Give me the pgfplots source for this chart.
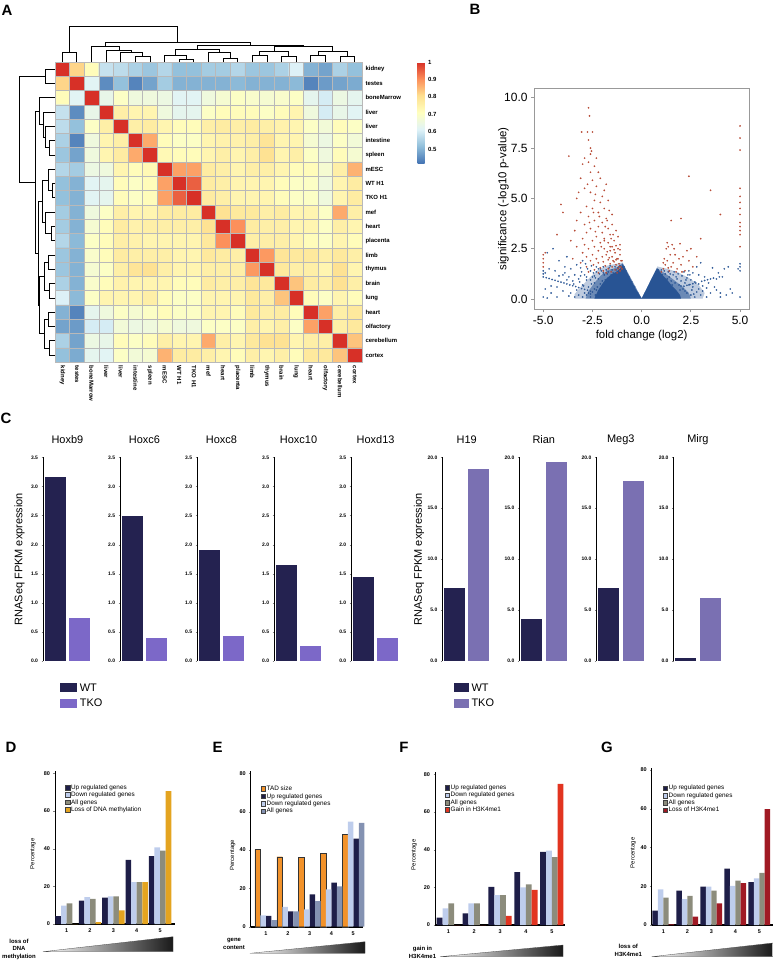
\documentclass[border=0pt]{standalone}
\usepackage{fontspec}
\setmainfont{Liberation Sans}
\usepackage{pgfplots}
\pgfplotsset{compat=1.18}
\pgfplotsset{/pgf/number format/assume math mode=true}
\definecolor{wt}{RGB}{36,34,80}
\definecolor{tkoA}{RGB}{124,104,200}
\definecolor{tkoB}{RGB}{122,112,178}
\definecolor{vblue}{RGB}{40,84,148}
\definecolor{vred}{RGB}{182,72,50}
\definecolor{navy}{RGB}{30,30,72}
\definecolor{lblue}{RGB}{190,205,236}
\definecolor{olive}{RGB}{140,140,124}
\definecolor{gblue}{RGB}{132,146,178}
\definecolor{dorange}{RGB}{228,164,32}
\definecolor{eorange}{RGB}{242,146,42}
\definecolor{fred}{RGB}{226,52,32}
\definecolor{gred}{RGB}{160,26,36}
\newcommand\fs[1]{\fontsize{#1}{#1}\selectfont}
\newcommand\tb[5]{\addplot[dend] coordinates {(#1,#2) (#1,#3) (#4,#3) (#4,#5)};}
\newcommand\lb[5]{\addplot[dend] coordinates {(#2,#1) (#3,#1) (#3,#4) (#5,#4)};}
\pgfplotsset{
 cbar/.style={scale only axis, width=48.8bp, height=203.7bp, xmin=0.5, xmax=2.5, ymin=0,
   axis x line=none, axis y line*=left, axis line style={line width=0.8bp},
   tick align=outside, major tick length=1.5bp,
   yticklabel style={font=\fs{5}\bfseries, /pgf/number format/.cd, fixed, fixed zerofill, precision=1},
   title style={font=\fs{11}, at={(0.5,1)}, anchor=center, yshift=11.6bp},
   clip=false},
 hox/.style={cbar, ymax=3.5, ytick={0,0.5,1,1.5,2,2.5,3,3.5}},
 imp/.style={cbar, ymax=20, ytick={0,5,10,15,20}},
 pb/.style={ybar, bar width=21bp, draw=none},
 dg/.style={scale only axis, ymin=0, ymax=81, axis lines*=left,
   axis line style={line width=1bp}, x axis line style={line width=1.8bp},
   ytick={0,20,40,60,80}, xtick={1,2,3,4,5}, tick align=outside,
   major tick length=1.5bp, xtick style={draw=none},
   tick label style={font=\fs{5.5}\bfseries},
   ylabel={Percentage}, ylabel style={font=\fs{6}, at={(rel axis cs:0,0.46)}, anchor=center},
   legend cell align=left,
   legend style={anchor=north west, draw=none, fill=none, inner sep=0pt, font=\fs{6.4}, row sep=0.8bp, column sep=0.6bp,
     nodes={inner sep=0.4bp, text height=4.6bp, text depth=1.2bp}},
   legend image code/.code={\draw[#1, draw=black!75, line width=0.35bp] (0bp,-2.3bp) rectangle (4.6bp,2.3bp);},
   clip=false},
}
\begin{document}
\begin{tikzpicture}[dend/.style={black, line width=0.9bp}]
\useasboundingbox (0bp,0bp) rectangle (773bp,-961bp);

% ---------------- Panel A heatmap
\begin{axis}[at={(55bp,-62bp)}, anchor=north west, scale only axis, width=307bp, height=300.3bp,
 xmin=-0.5, xmax=20.5, ymin=-0.5, ymax=20.5, enlargelimits=false,
 colormap={rdylbu}{rgb255=(69,117,180) rgb255=(145,191,219) rgb255=(224,243,248) rgb255=(255,255,191) rgb255=(254,224,144) rgb255=(252,141,89) rgb255=(215,48,39)},
 point meta min=0.42, point meta max=1,
 xtick={0,...,20}, ytick={0,...,20},
 xticklabels={kidney,testes,boneMarrow,liver,liver,intestine,spleen,mESC,WT H1,TKO H1,mef,heart,placenta,limb,thymus,brain,lung,heart,olfactory,cerebellum,cortex},
 yticklabels={cortex,cerebellum,olfactory,heart,lung,brain,thymus,limb,placenta,heart,mef,TKO H1,WT H1,mESC,spleen,intestine,liver,liver,boneMarrow,testes,kidney},
 yticklabel pos=right,
 major tick length=0, minor tick length=0,
 xticklabel style={rotate=-90, anchor=west, font=\fs{6}\bfseries},
 yticklabel style={anchor=west, font=\fs{6}\bfseries},
 minor xtick={-0.5,0.5,...,20.5}, minor ytick={-0.5,0.5,...,20.5},
 xminorgrids, yminorgrids, minor grid style={gray!55, line width=0.7bp},
 axis on top, axis line style={gray!55, line width=0.7bp},
 colorbar,
 colorbar style={at={(parent axis.north east)}, anchor=north west, xshift=47bp, scale only axis,
   width=7bp, height=101bp, ytick={0.5,0.6,0.7,0.8,0.9,1}, major tick length=0,
   yticklabel style={font=\fs{6}\bfseries, /pgf/number format/fixed},
   axis line style={draw=none}}]
\addplot[matrix plot*, mesh/cols=21, point meta=explicit]
 table[row sep=\\, header=false, x expr={mod(\coordindex,21)}, y expr={20-floor((\coordindex+0.5)/21)}, meta index=0] {
1\\0.82\\0.72\\0.58\\0.57\\0.55\\0.53\\0.56\\0.52\\0.52\\0.54\\0.54\\0.56\\0.53\\0.53\\0.55\\0.61\\0.50\\0.48\\0.55\\0.52\\
0.82\\1\\0.62\\0.45\\0.52\\0.44\\0.48\\0.54\\0.50\\0.50\\0.50\\0.50\\0.51\\0.50\\0.50\\0.50\\0.51\\0.44\\0.47\\0.48\\0.49\\
0.72\\0.62\\1\\0.64\\0.70\\0.66\\0.66\\0.65\\0.62\\0.62\\0.66\\0.68\\0.70\\0.69\\0.68\\0.69\\0.70\\0.63\\0.60\\0.65\\0.63\\
0.58\\0.45\\0.64\\1\\0.76\\0.74\\0.74\\0.66\\0.63\\0.63\\0.70\\0.72\\0.72\\0.72\\0.70\\0.72\\0.74\\0.66\\0.60\\0.64\\0.62\\
0.57\\0.52\\0.70\\0.76\\1\\0.76\\0.77\\0.74\\0.72\\0.72\\0.76\\0.77\\0.76\\0.77\\0.76\\0.75\\0.74\\0.70\\0.67\\0.72\\0.70\\
0.55\\0.44\\0.66\\0.74\\0.76\\1\\0.87\\0.72\\0.70\\0.70\\0.74\\0.75\\0.75\\0.76\\0.79\\0.74\\0.74\\0.68\\0.65\\0.70\\0.67\\
0.53\\0.48\\0.66\\0.74\\0.77\\0.87\\1\\0.73\\0.72\\0.72\\0.74\\0.76\\0.74\\0.76\\0.80\\0.74\\0.76\\0.70\\0.66\\0.72\\0.68\\
0.56\\0.54\\0.65\\0.66\\0.74\\0.72\\0.73\\1\\0.88\\0.88\\0.77\\0.76\\0.74\\0.76\\0.76\\0.74\\0.72\\0.72\\0.68\\0.76\\0.86\\
0.52\\0.50\\0.62\\0.63\\0.72\\0.70\\0.72\\0.88\\1\\0.95\\0.77\\0.76\\0.74\\0.74\\0.74\\0.72\\0.70\\0.70\\0.66\\0.74\\0.77\\
0.52\\0.50\\0.62\\0.63\\0.72\\0.70\\0.72\\0.88\\0.95\\1\\0.77\\0.76\\0.74\\0.74\\0.74\\0.72\\0.70\\0.70\\0.66\\0.74\\0.77\\
0.54\\0.50\\0.66\\0.70\\0.76\\0.74\\0.74\\0.77\\0.77\\0.77\\1\\0.80\\0.78\\0.78\\0.76\\0.77\\0.74\\0.74\\0.70\\0.87\\0.76\\
0.54\\0.50\\0.68\\0.72\\0.77\\0.75\\0.76\\0.76\\0.76\\0.76\\0.80\\1\\0.90\\0.77\\0.76\\0.76\\0.74\\0.74\\0.70\\0.76\\0.74\\
0.56\\0.51\\0.70\\0.72\\0.76\\0.75\\0.74\\0.74\\0.74\\0.74\\0.78\\0.90\\1\\0.76\\0.76\\0.76\\0.74\\0.72\\0.70\\0.74\\0.72\\
0.53\\0.50\\0.69\\0.72\\0.77\\0.76\\0.76\\0.76\\0.74\\0.74\\0.78\\0.77\\0.76\\1\\0.89\\0.79\\0.78\\0.78\\0.76\\0.78\\0.76\\
0.53\\0.50\\0.68\\0.70\\0.76\\0.79\\0.80\\0.76\\0.74\\0.74\\0.76\\0.76\\0.76\\0.89\\1\\0.78\\0.76\\0.76\\0.74\\0.80\\0.74\\
0.55\\0.50\\0.69\\0.72\\0.75\\0.74\\0.74\\0.74\\0.72\\0.72\\0.77\\0.76\\0.76\\0.79\\0.78\\1\\0.84\\0.77\\0.76\\0.80\\0.76\\
0.61\\0.51\\0.70\\0.74\\0.74\\0.74\\0.76\\0.72\\0.70\\0.70\\0.74\\0.74\\0.74\\0.78\\0.76\\0.84\\1\\0.72\\0.70\\0.74\\0.72\\
0.50\\0.44\\0.63\\0.66\\0.70\\0.68\\0.70\\0.72\\0.70\\0.70\\0.74\\0.74\\0.72\\0.78\\0.76\\0.77\\0.72\\1\\0.88\\0.76\\0.78\\
0.48\\0.47\\0.60\\0.60\\0.67\\0.65\\0.66\\0.68\\0.66\\0.66\\0.70\\0.70\\0.70\\0.76\\0.74\\0.76\\0.70\\0.88\\1\\0.76\\0.78\\
0.55\\0.48\\0.65\\0.64\\0.72\\0.70\\0.72\\0.76\\0.74\\0.74\\0.87\\0.76\\0.74\\0.78\\0.80\\0.80\\0.74\\0.76\\0.76\\1\\0.84\\
0.52\\0.49\\0.63\\0.62\\0.70\\0.67\\0.68\\0.86\\0.77\\0.77\\0.76\\0.74\\0.72\\0.76\\0.74\\0.76\\0.72\\0.78\\0.78\\0.84\\1\\
};
\end{axis}

% ---------------- Panel B volcano
\begin{axis}[at={(534bp,-88.3bp)}, anchor=north west, scale only axis, width=215.3bp, height=221bp,
 xmin=-5.47, xmax=5.47, ymin=-0.51, ymax=10.47,
 xtick={-5,-2.5,0,2.5,5}, ytick={0,2.5,5,7.5,10},
 tick label style={font=\fs{12}, /pgf/number format/.cd, fixed, fixed zerofill, precision=1},
 xtick pos=bottom, ytick pos=left, tick align=outside, major tick length=3bp,
 axis line style={gray!80, line width=0.8bp}, tick style={gray!80, line width=0.8bp},
 xlabel={fold change (log2)}, ylabel={significance (-log10 p-value)},
 label style={font=\fs{11.5}},
 xlabel style={at={(rel axis cs:0.5,0)}, anchor=center, yshift=-26.7bp},
 ylabel style={at={(rel axis cs:0,0.5)}, anchor=center, yshift=30.7bp}]
\addplot[fill=vblue, fill opacity=0.3, draw=none] coordinates {(0,0.03) (-0.97,1.82) (-1.3,1.75) (-1.8,1.65) (-2.3,1.4) (-2.7,1.0) (-3.1,0.6) (-3.4,0.25) (-3.4,0.02) (3.1,0.02) (3.2,0.3) (2.9,0.7) (2.4,1.05) (1.8,1.35) (1.3,1.5) (0.8,1.62)} -- cycle;
\addplot[fill=vblue, fill opacity=0.55, draw=none] coordinates {(0,0.03) (-0.97,1.78) (-1.3,1.55) (-1.7,1.45) (-2.1,1.15) (-2.4,0.8) (-2.7,0.4) (-2.85,0.02) (2.5,0.02) (2.4,0.3) (2.1,0.6) (1.7,0.9) (1.3,1.2) (0.9,1.45) (0.78,1.55)} -- cycle;
\addplot[fill=vblue, draw=none] coordinates {(0,0.03) (-0.3,0.5) (-0.6,1.05) (-0.85,1.55) (-0.97,1.74) (-1.1,1.5) (-1.3,1.35) (-1.55,1.22) (-1.8,1.0) (-2.0,0.75) (-2.2,0.45) (-2.35,0.15) (-2.4,0.02) (2.0,0.02) (1.95,0.2) (1.75,0.45) (1.5,0.7) (1.3,0.95) (1.05,1.2) (0.85,1.45) (0.78,1.52) (0.5,1.0) (0.25,0.5)} -- cycle;
\addplot[only marks, mark=*, mark size=0.65bp, color=vblue, opacity=0.85] coordinates {
(-5.0,1.1) (-4.85,1.06) (-4.7,1.02) (-4.55,0.97) (-4.4,0.93) (-4.25,0.88) (-4.1,0.84) (-3.95,0.8) (-3.8,0.75) (-3.65,0.7) (-3.5,0.66) (-3.35,0.62) (-3.2,0.57) (-3.05,0.52) (-2.9,0.48) (-2.75,0.44) (-2.6,0.39)
(-4.5,2.5) (-4.8,2.3) (-4.2,1.9) (-3.9,1.6) (-4.4,1.4) (-3.6,1.5) (-3.3,1.7) (-3.0,1.9) (-4.7,1.5) (-3.8,2.1) (-4.0,0.4) (-4.6,0.3) (-3.7,0.15) (-4.3,0.1) (-4.8,0.05) (-3.9,1.3) (-4.2,1.15) (-3.1,1.55) (-2.85,1.75) (-2.55,1.65) (-5,0.1) (-5,1.25) (-5,1.4) (-4.9,1.3)
(-2.6,1.4) (-2.9,1.2) (-3.2,1.0) (-3.5,0.9) (-3.8,0.95) (-2.3,1.6) (-2.1,1.5) (-2.5,1.1) (-2.8,0.95) (-3.0,0.7) (-3.3,0.45) (-3.6,0.3) (-2.2,1.0) (-2.4,0.8) (-2.7,0.6) (-2.9,0.3) (-3.2,0.2) (-3.4,0.1) (-2.6,0.25) (-2.3,0.45) (-2.0,0.9) (-1.9,1.2) (-1.7,1.35) (-2.15,1.25) (-2.45,1.3) (-2.75,1.5) (-3.05,1.35) (-3.4,1.2) (-3.7,1.1) (-4.0,1.2) (-4.3,0.6) (-4.6,0.65) (-4.9,0.5)
(-1.1,1.65) (-1.2,1.55) (-1.35,1.6) (-1.5,1.45) (-1.65,1.55) (-1.8,1.45) (-1.95,1.6) (-2.05,1.4) (-1.4,1.2) (-1.6,1.1) (-1.85,0.95) (-2.1,0.75) (-2.25,0.6) (-2.4,0.5) (-2.5,0.35) (-2.35,0.2) (-2.2,0.1) (-2.6,0.1) (-2.8,0.2) (-3.0,0.1) (-1.75,1.25) (-1.25,1.3) (-2.3,1.35) (-2.6,0.95) (-2.8,1.1)
(-1.05,1.45) (-1.15,1.35) (-1.3,1.45) (-1.45,1.3) (-1.55,1.2) (-1.7,1.05) (-1.9,0.8) (-2.0,0.5) (-2.15,0.35) (-1.95,1.3) (-2.2,1.5) (-2.4,1.15) (-2.55,0.75) (-2.7,0.3) (-2.95,0.65) (-3.15,0.85) (-3.45,0.75) (-3.1,1.15) (-2.35,1.05) (-1.6,1.65)
(-0.2,0.3) (-0.35,0.6) (-0.5,0.85) (-0.65,1.1) (-0.8,1.4) (-0.9,1.6) (0.2,0.3) (0.35,0.6) (0.5,0.85) (0.65,1.15) (0.72,1.35)
(0.9,1.3) (1.05,1.2) (1.2,1.25) (1.4,1.1) (1.6,1.2) (1.8,1.0) (2.0,0.9) (2.2,0.8) (2.4,0.7) (2.6,0.6) (1.3,1.0) (1.5,0.9) (1.7,0.8) (1.9,0.7) (2.1,0.5) (2.3,0.3) (2.5,0.2) (2.7,0.1) (1.85,1.25) (2.05,1.15) (2.3,1.05) (2.5,0.95) (2.7,0.85) (2.9,0.75) (3.1,0.65) (3.3,0.55) (2.6,1.3) (2.9,1.2) (3.2,1.1) (3.5,1.0) (3.8,1.0) (4.1,1.1) (3.4,0.8) (3.7,0.6) (2.8,0.35) (3.0,0.2) (3.3,0.1) (2.15,1.35) (2.45,1.2) (1.65,1.35) (1.35,1.35) (1.1,0.95) (2.0,0.65) (2.2,0.4) (2.4,1.4) (2.8,1.6) (3.0,1.8) (3.6,1.55) (3.9,1.3) (4.2,1.5) (4.5,0.5) (4.4,1.6) (4.0,0.3) (3.5,0.3) (2.9,0.5)
(2.15,0.64) (2.45,0.72) (2.75,0.8) (3.05,0.88) (3.35,0.96) (3.65,1.04) (3.95,1.1) (2.3,0.68) (2.6,0.76) (3.2,0.92)
(0.95,1.1) (1.15,1.4) (1.25,0.8) (1.45,1.25) (1.55,0.7) (1.75,1.1) (1.95,0.45) (2.25,0.95) (2.55,0.45) (2.35,1.2) (0.85,1.45) (1.0,1.45) (2.65,0.25) (3.1,0.4) (4.3,0.2) (3.8,0.45)
(5,0.1) (5,1.4) (5,1.6) (5,1.75) (4.9,1.5) (4,0.1) (4.6,0.3)
};
\addplot[only marks, mark=*, mark size=0.65bp, color=vred, opacity=0.9] coordinates {
(-2.7,9.5) (-2.65,9.1) (-3.05,8.3) (-2.75,8.3) (-2.5,8.3) (-2.7,7.9) (-2.6,7.5) (-2.55,7.35) (-2.6,7.2) (-3.7,7.1) (-2.9,7.0) (-2.3,7.0) (-2.7,6.8) (-3.0,6.7) (-2.4,6.6) (-2.2,6.3) (-2.6,6.3) (-3.1,6.0) (-2.1,6.0) (-2.5,5.9) (-1.8,5.7) (-2.3,5.6) (-2.9,5.5) (-1.9,5.4) (-3.2,5.3) (-2.6,5.3) (-2.0,5.1) (-3.3,5.0) (-2.4,4.9) (-2.1,4.8) (-1.7,4.9) (-4.1,4.7) (-2.8,4.6) (-1.9,4.5) (-2.5,4.5) (-4.0,4.3) (-3.1,4.3) (-2.2,4.3) (-1.5,4.2) (-2.7,4.1) (-1.8,4.0) (-2.4,3.9) (-3.3,3.9) (-2.0,3.8) (-1.5,3.7) (-2.9,3.7) (-2.2,3.6) (-1.7,3.5) (-2.6,3.5) (-3.4,3.4) (-1.3,3.4) (-2.0,3.3) (-2.8,3.3) (-1.6,3.2) (-4.3,3.2) (-2.3,3.1) (-1.2,3.1) (-3.0,3.0) (-1.9,3.0) (-2.5,2.9) (-1.4,2.9) (-3.6,2.9) (-2.1,2.8) (-1.7,2.8) (-2.9,2.7) (-1.1,2.7) (-2.4,2.6) (-1.5,2.6) (-3.3,2.6) (-1.9,2.5) (-2.7,2.5) (-1.2,2.5) (-2.2,2.4) (-1.6,2.4) (-3.0,2.3) (-1.35,2.3) (-2.5,2.2) (-1.8,2.2) (-1.1,2.2) (-2.0,2.1) (-2.8,2.1) (-1.5,2.1) (-3.5,2.0) (-1.25,2.0) (-2.3,2.0) (-1.7,1.95) (-1.05,1.9) (-2.6,1.9) (-1.95,1.85) (-1.4,1.85) (-3.1,1.8) (-2.2,1.8) (-1.15,1.75) (-1.6,1.75) (-2.45,1.7) (-1.3,1.7) (-1.85,1.65) (-2.8,1.6) (-1.05,1.6) (-1.5,1.6) (-2.1,1.55) (-1.2,1.5) (-1.7,1.5) (-2.4,1.45) (-1.35,1.45) (-1.95,1.4) (-1.1,1.4) (-1.55,1.35) (-2.7,1.35) (-1.25,1.3) (-1.8,1.3) (-2.2,1.3) (-1.45,1.9) (-1.75,2.35) (-1.3,2.65) (-1.55,3.0) (-2.35,3.35) (-1.85,3.6) (-2.65,3.8) (-2.15,4.1) (-1.65,4.4) (-2.35,5.2) (-2.75,5.7) (-1.2,2.0) (-1.4,2.45) (-1.65,2.05) (-1.0,1.5) (-1.15,1.6) (-1.3,1.95) (-1.6,2.6) (-1.9,2.9) (-2.05,2.6) (-1.45,3.2) (-1.75,3.9) (-2.45,4.3) (-1.0,1.9) (-1.1,2.45)
(-5.0,1.6) (-5.0,1.8) (-5.0,2.0) (-5.0,2.2) (-4.9,2.3)
(1.0,1.35) (1.1,1.5) (1.2,1.7) (1.3,1.9) (1.25,2.5) (1.3,2.8) (1.35,2.6) (1.4,1.4) (1.5,1.6) (1.6,1.8) (1.7,2.2) (1.8,1.5) (1.9,2.0) (2.0,1.7) (2.1,2.1) (2.2,1.4) (2.3,2.4) (2.4,1.9) (2.5,2.5) (1.15,2.0) (1.45,2.2) (1.65,2.5) (1.75,1.35) (2.05,1.35) (2.6,1.6) (1.55,2.7) (2.0,4.0) (1.5,3.9) (2.4,6.1) (3.5,5.4) (4.0,4.2) (3.0,3.0) (2.8,2.1) (1.1,1.8) (1.35,1.55) (1.95,2.75)
(5,2.6) (5,3.2) (5,3.4) (5,3.6) (5,3.8) (5,4.2) (5,4.5) (5,4.8) (5,5.1) (5,5.5) (5,7.4) (5,8.0) (5,8.6)
};
\end{axis}

% ---------------- Panel C
\begin{axis}[hox, at={(43bp,-661bp)}, anchor=south west, title={Hoxb9},
 ylabel={RNASeq FPKM expression}, ylabel style={font=\fs{11}, at={(rel axis cs:0,0.5)}, anchor=center, yshift=23.5bp},
 legend cell align=left,
 legend style={at={(rel axis cs:0.348,-0.103)}, anchor=north west, draw=none, fill=none, inner sep=0pt, row sep=4.5bp, column sep=2bp, font=\fs{11}, nodes={inner sep=1bp, text height=8bp, text depth=1bp}},
 legend image code/.code={\fill[#1] (0bp,-4.5bp) rectangle (16.7bp,4.5bp);}]
\addplot[pb, fill=wt] coordinates {(1,3.17)}; \addlegendentry{WT}
\addplot[pb, fill=tkoA] coordinates {(2,0.74)}; \addlegendentry{TKO}
\end{axis}
\begin{axis}[hox, at={(120.05bp,-661bp)}, anchor=south west, title={Hoxc6}]
\addplot[pb, fill=wt] coordinates {(1,2.50)};
\addplot[pb, fill=tkoA] coordinates {(2,0.39)};
\end{axis}
\begin{axis}[hox, at={(197.1bp,-661bp)}, anchor=south west, title={Hoxc8}]
\addplot[pb, fill=wt] coordinates {(1,1.90)};
\addplot[pb, fill=tkoA] coordinates {(2,0.43)};
\end{axis}
\begin{axis}[hox, at={(274.15bp,-661bp)}, anchor=south west, title={Hoxc10}]
\addplot[pb, fill=wt] coordinates {(1,1.65)};
\addplot[pb, fill=tkoA] coordinates {(2,0.26)};
\end{axis}
\begin{axis}[hox, at={(351.2bp,-661bp)}, anchor=south west, title={Hoxd13}]
\addplot[pb, fill=wt] coordinates {(1,1.45)};
\addplot[pb, fill=tkoA] coordinates {(2,0.39)};
\end{axis}
\begin{axis}[imp, at={(442.3bp,-661bp)}, anchor=south west, title={H19},
 ylabel={RNASeq FPKM expression}, ylabel style={font=\fs{11}, at={(rel axis cs:0,0.5)}, anchor=center, yshift=23.3bp},
 legend cell align=left,
 legend style={at={(rel axis cs:0.24,-0.103)}, anchor=north west, draw=none, fill=none, inner sep=0pt, row sep=4.5bp, column sep=2bp, font=\fs{11}, nodes={inner sep=1bp, text height=8bp, text depth=1bp}},
 legend image code/.code={\fill[#1] (0bp,-4.5bp) rectangle (14.3bp,4.5bp);}]
\addplot[pb, fill=wt] coordinates {(1,7.14)}; \addlegendentry{WT}
\addplot[pb, fill=tkoB] coordinates {(2,18.9)}; \addlegendentry{TKO}
\end{axis}
\begin{axis}[imp, at={(519.4bp,-661bp)}, anchor=south west, title={Rian}]
\addplot[pb, fill=wt] coordinates {(1,4.09)};
\addplot[pb, fill=tkoB] coordinates {(2,19.5)};
\end{axis}
\begin{axis}[imp, at={(596.4bp,-661bp)}, anchor=south west, title={Meg3}]
\addplot[pb, fill=wt] coordinates {(1,7.2)};
\addplot[pb, fill=tkoB] coordinates {(2,17.7)};
\end{axis}
\begin{axis}[imp, at={(673.5bp,-661bp)}, anchor=south west, title={Mirg}]
\addplot[pb, fill=wt] coordinates {(1,0.3)};
\addplot[pb, fill=tkoB] coordinates {(2,6.15)};
\end{axis}

% ---------------- Panel D
\begin{axis}[dg, at={(55bp,-924bp)}, anchor=south west, width=120bp, height=152.6bp, xmin=0.5, xmax=5.64,
 ylabel style={yshift=22bp}, legend style={at={(axis cs:0.927,74.3)}}]
\addplot[ybar, bar width=5.6bp, bar shift=-8.4bp, fill=navy, draw=none] coordinates {(1,4.2) (2,12.4) (3,14) (4,34) (5,36.1)}; \addlegendentry{Up regulated genes}
\addplot[ybar, bar width=5.6bp, bar shift=-2.8bp, fill=lblue, draw=none] coordinates {(1,9.7) (2,14.3) (3,14.7) (4,22.3) (5,40.7)}; \addlegendentry{Down regulated genes}
\addplot[ybar, bar width=5.6bp, bar shift=2.8bp, fill=olive, draw=none] coordinates {(1,11) (2,13.3) (3,14.7) (4,22.3) (5,38.9)}; \addlegendentry{All genes}
\addplot[ybar, bar width=5.6bp, bar shift=8.4bp, fill=dorange, draw=none] coordinates {(1,0) (2,1) (3,7.3) (4,22.3) (5,70.6)}; \addlegendentry{Loss of DNA methylation}
\end{axis}

% ---------------- Panel E
\begin{axis}[dg, at={(250.7bp,-926.7bp)}, anchor=south west, width=112.6bp, height=155.3bp, xmin=0.3, xmax=5.46,
 ylabel style={yshift=18bp}, legend style={at={(axis cs:0.75,73.7)}}]
\addplot[ybar, bar width=5.5bp, bar shift=-8.25bp, fill=eorange, draw=black!80, line width=0.4bp] coordinates {(1,40.3) (2,36.5) (3,36) (4,38.3) (5,48)}; \addlegendentry{TAD size}
\addplot[ybar, bar width=5.5bp, bar shift=2.75bp, fill=navy, draw=none] coordinates {(1,5.6) (2,8) (3,16.9) (4,23) (5,45.9)}; \addlegendentry{Up regulated genes}
\addplot[ybar, bar width=5.5bp, bar shift=-2.75bp, fill=lblue, draw=none] coordinates {(1,5.9) (2,10.4) (3,9) (4,19.5) (5,54.8)}; \addlegendentry{Down regulated genes}
\addplot[ybar, bar width=5.5bp, bar shift=8.25bp, fill=gblue, draw=none] coordinates {(1,3.5) (2,8) (3,13.4) (4,21) (5,54.1)}; \addlegendentry{All genes}
\end{axis}

% ---------------- Panel F
\begin{axis}[dg, at={(435bp,-925bp)}, anchor=south west, width=130bp, height=152.6bp, xmin=0.485, xmax=5.51,
 ylabel style={yshift=20.7bp}, legend style={at={(axis cs:0.853,74.8)}}]
\addplot[ybar, bar width=5.8bp, bar shift=-8.7bp, fill=navy, draw=none] coordinates {(1,3.9) (2,6.2) (3,20.2) (4,28.1) (5,38.8)}; \addlegendentry{Up regulated genes}
\addplot[ybar, bar width=5.8bp, bar shift=-2.9bp, fill=lblue, draw=none] coordinates {(1,8.8) (2,11.5) (3,15.9) (4,20) (5,39.5)}; \addlegendentry{Down regulated genes}
\addplot[ybar, bar width=5.8bp, bar shift=2.9bp, fill=olive, draw=none] coordinates {(1,11.5) (2,11.5) (3,15.8) (4,21.6) (5,36.1)}; \addlegendentry{All genes}
\addplot[ybar, bar width=5.8bp, bar shift=8.7bp, fill=fred, draw=none] coordinates {(1,0) (2,0) (3,4.8) (4,18.6) (5,74.9)}; \addlegendentry{Gain in H3K4me1}
\end{axis}

% ---------------- Panel G
\begin{axis}[dg, at={(651.7bp,-925bp)}, anchor=south west, width=121bp, height=156.9bp, xmin=0.517, xmax=5.56,
 ylabel style={yshift=18.4bp}, legend style={at={(axis cs:0.967,72.5)}}]
\addplot[ybar, bar width=5.4bp, bar shift=-8.1bp, fill=navy, draw=none] coordinates {(1,7.4) (2,17.8) (3,19.8) (4,29.1) (5,22.1)}; \addlegendentry{Up regulated genes}
\addplot[ybar, bar width=5.4bp, bar shift=-2.7bp, fill=lblue, draw=none] coordinates {(1,18.4) (2,13.4) (3,19.8) (4,20.2) (5,24.1)}; \addlegendentry{Down regulated genes}
\addplot[ybar, bar width=5.4bp, bar shift=2.7bp, fill=olive, draw=none] coordinates {(1,14.1) (2,15) (3,17.8) (4,22.9) (5,26.9)}; \addlegendentry{All genes}
\addplot[ybar, bar width=5.4bp, bar shift=8.1bp, fill=gred, draw=none] coordinates {(1,0.3) (2,4.3) (3,11.2) (4,21.6) (5,59.8)}; \addlegendentry{Loss of H3K4me1}
\end{axis}

% ---------------- overlay: dendrograms, gradients, labels
\begin{axis}[at={(0bp,0bp)}, anchor=north west, scale only axis, width=773bp, height=961bp,
 xmin=0, xmax=773, ymin=0, ymax=961, y dir=reverse, hide axis, clip=false]
\tb{62.31}{62}{52.7}{76.93}{62}
\tb{135.41}{62}{56.7}{150.03}{62}
\tb{120.79}{62}{52.3}{142.72}{56.7}
\tb{106.17}{62}{50.7}{131.76}{52.3}
\tb{91.55}{62}{46}{118.96}{50.7}
\tb{179.27}{62}{59.5}{193.89}{62}
\tb{164.65}{62}{55}{186.58}{59.5}
\tb{223.13}{62}{58}{237.75}{62}
\tb{208.51}{62}{52.7}{230.44}{58}
\tb{175.62}{55}{49.5}{219.48}{52.7}
\tb{252.37}{62}{55.5}{266.99}{62}
\tb{281.61}{62}{56}{296.23}{62}
\tb{259.68}{55.5}{51}{288.92}{56}
\tb{310.85}{62}{55.5}{325.47}{62}
\tb{340.09}{62}{56.5}{354.71}{62}
\tb{318.16}{55.5}{51}{347.4}{56.5}
\tb{274.3}{51}{46.3}{332.78}{51}
\tb{197.55}{49.5}{45}{303.54}{46.3}
\tb{105.26}{46}{42.7}{250.55}{45}
\tb{69.62}{52.7}{26.7}{177.9}{42.7}
\lb{69.15}{55}{45.7}{83.45}{55}
\lb{140.65}{55}{49.7}{154.95}{55}
\lb{126.35}{55}{45.3}{147.8}{49.7}
\lb{112.05}{55}{43.7}{137.08}{45.3}
\lb{97.75}{55}{39}{124.56}{43.7}
\lb{183.55}{55}{52.5}{197.85}{55}
\lb{169.25}{55}{48}{190.7}{52.5}
\lb{226.45}{55}{51}{240.75}{55}
\lb{212.15}{55}{45.7}{233.6}{51}
\lb{179.98}{48}{42.5}{222.88}{45.7}
\lb{255.05}{55}{48.5}{269.35}{55}
\lb{283.65}{55}{49}{297.95}{55}
\lb{262.2}{48.5}{44}{290.8}{49}
\lb{312.25}{55}{48.5}{326.55}{55}
\lb{340.85}{55}{49.5}{355.15}{55}
\lb{319.4}{48.5}{44}{348}{49.5}
\lb{276.5}{44}{39.3}{333.7}{44}
\lb{201.43}{42.5}{38}{305.1}{39.3}
\lb{111.16}{39}{35.7}{253.27}{38}
\lb{76.3}{45.7}{19.7}{182.2}{35.7}
\addplot[draw=black!70, line width=0.3bp, left color=white, right color=black!90] coordinates {(43,951.7) (173,936.7) (173,951.7)} -- cycle;
\addplot[draw=black!70, line width=0.3bp, left color=white, right color=black!90] coordinates {(250,953.3) (365,941.7) (365,953.3)} -- cycle;
\addplot[draw=black!70, line width=0.3bp, left color=white, right color=black!90] coordinates {(440,956.7) (563,945) (563,956.7)} -- cycle;
\addplot[draw=black!70, line width=0.3bp, left color=white, right color=black!90] coordinates {(651.7,956.7) (772.7,943) (772.7,956.7)} -- cycle;
\node[font=\fontsize{6}{7.8}\selectfont\bfseries, align=center] at (axis cs:19,949.3) {loss of\\DNA\\methylation};
\node[font=\fontsize{6}{8.3}\selectfont\bfseries, align=center] at (axis cs:234,944.2) {gene\\content};
\node[font=\fontsize{6}{7.7}\selectfont\bfseries, align=center] at (axis cs:422.5,952.2) {gain in\\H3K4me1};
\node[font=\fontsize{6}{8}\selectfont\bfseries, align=center] at (axis cs:628.3,950) {loss of\\H3K4me1};
\node[font=\fs{15}\bfseries] at (axis cs:7,10.5) {A};
\node[font=\fs{15}\bfseries] at (axis cs:475,9.5) {B};
\node[font=\fs{15}\bfseries] at (axis cs:6,418) {C};
\node[font=\fs{15}\bfseries] at (axis cs:11,747) {D};
\node[font=\fs{15}\bfseries] at (axis cs:217.5,747.7) {E};
\node[font=\fs{15}\bfseries] at (axis cs:404,747.7) {F};
\node[font=\fs{15}\bfseries] at (axis cs:607,747.7) {G};
\end{axis}
\end{tikzpicture}
\end{document}
